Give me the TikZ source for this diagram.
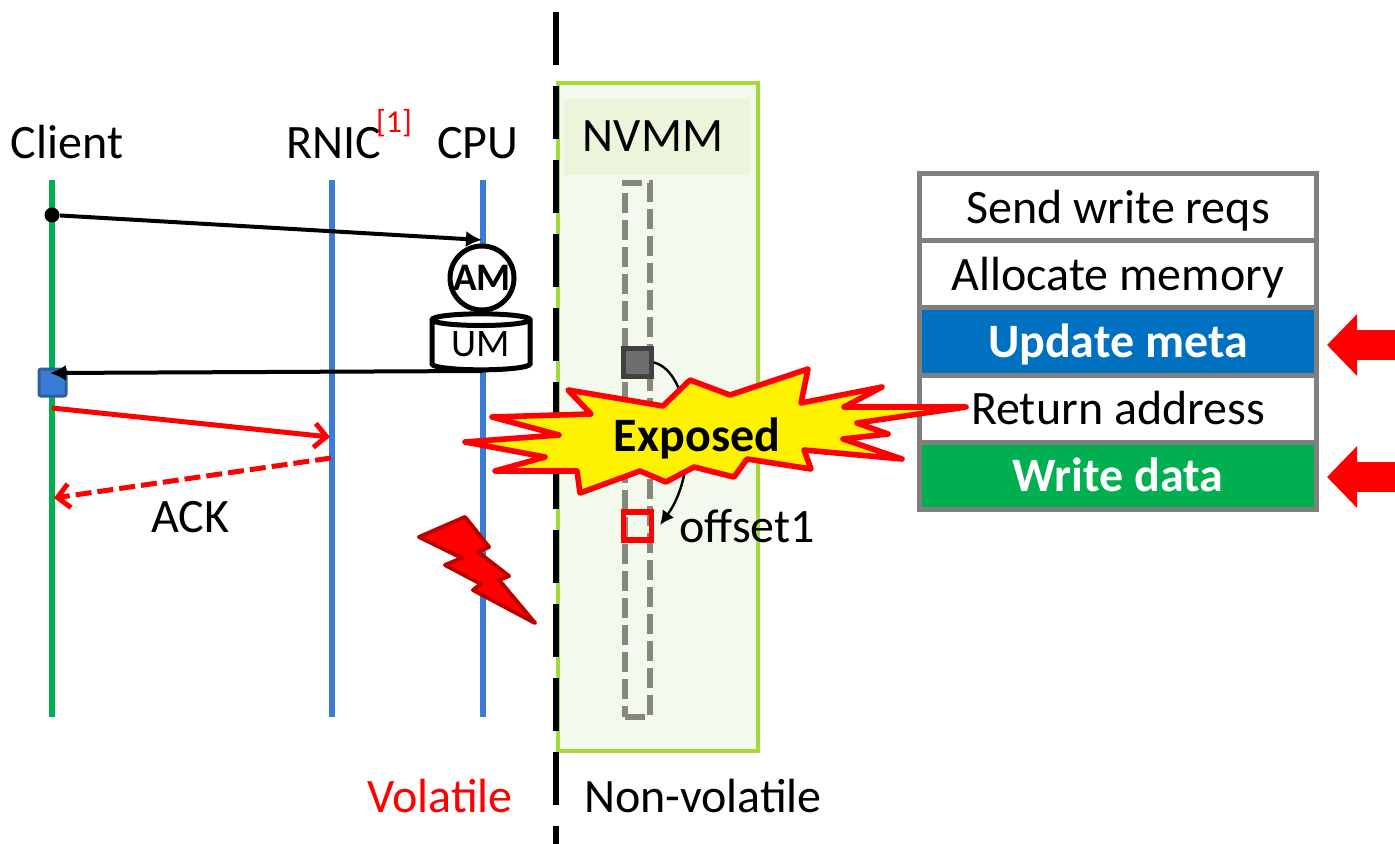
\documentclass[tikz,border=0pt]{standalone}
\usepackage{fontspec}
\setmainfont{Carlito}
\usepackage{tikz}
\usetikzlibrary{arrows.meta,positioning,shapes.geometric}
\tikzset{every node/.append style={align=center}}
\definecolor{softgreen}{HTML}{F3FAED}
\definecolor{headgreen}{HTML}{EBF5DC}
\definecolor{edgegreen}{HTML}{A2D93B}
\definecolor{linegreen}{HTML}{00B050}
\definecolor{lineblue}{HTML}{3A7BD5}
\definecolor{boxblue}{HTML}{2F5D9E}
\definecolor{rowblue}{HTML}{0070C0}
\definecolor{slotgrey}{HTML}{85887A}
\definecolor{starfill}{HTML}{FFF200}
\tikzset{
  lifeline/.style={line width=3.2pt},
  rowbox/.style={draw=gray, line width=2.5pt, fill=white, outer sep=0pt, inner sep=0pt, minimum width=198.5pt, minimum height=33.6pt, text height=16pt, text depth=0pt},
  hitarrow/.style={draw=red, line width=15pt, -{Triangle[length=15pt,width=30pt]}},
  msgarrow/.style={line width=2pt, -{Latex[length=8pt,width=8pt]}},
  lostarrow/.style={draw=red, line width=2.5pt, -{Straight Barb[length=6pt,width=12pt]}}
}
\begin{document}
\begin{tikzpicture}[x=0.5pt,y=-0.5pt,every node/.style={font=\fontsize{24}{28}\selectfont,align=center}, >=Latex]
  \useasboundingbox (0,0) rectangle (1395,844);

  % NVMM region
  \node[draw=edgegreen, line width=2pt, fill=softgreen, minimum width=100pt, minimum height=334pt, inner sep=0pt, outer sep=0pt] (nvmm) at (658,417) {};
  \node[fill=headgreen, minimum width=93pt, minimum height=38pt, inner sep=0pt, text height=15pt, text depth=0pt] (head) at (657,137) {NVMM\hspace{4pt}};
  \node[draw=slotgrey, line width=3pt, dash pattern=on 10pt off 3.5pt, minimum width=12.5pt, minimum height=267pt, inner sep=0pt] (slots) at (637,450) {};

  % lifelines
  \coordinate (clienttop) at (52,180);
  \coordinate (clientend) at (52,717);
  \coordinate (rnictop) at (332,180);
  \coordinate (rnicend) at (332,717);
  \coordinate (cputop) at (483,180);
  \coordinate (cpuend) at (483,717);
  \draw[lifeline, linegreen] (clienttop) -- (clientend);
  \draw[lifeline, lineblue] (rnictop) -- (rnicend);
  \draw[lifeline, lineblue] (cputop) -- (cpuend);

  \node[anchor=base] (client) at (67,159) {Client};
  \node[anchor=base] (rnic) at (334,159) {RNIC};
  \node[text=red, font=\fontsize{16}{18}\selectfont] (ref) at (394,123) {[1]};
  \node[anchor=base] (cpu) at (478,159) {CPU};

  % volatile / non-volatile split
  \coordinate (splittop) at (556,12);
  \coordinate (splitend) at (556,844);
  \draw[line width=3.2pt, dash pattern=on 26.5pt off 10.5pt] (splittop) -- (splitend);
  \node[anchor=base, text=red] (vol) at (440,812) {Volatile};
  \node[anchor=base] (nonvol) at (703,812) {Non-volatile};

  % write request path
  \node[circle, fill=black, inner sep=0pt, minimum size=7.5pt] (dot) at (52,215) {};
  \coordinate (cpuin) at (482,240);
  \coordinate (cpuout) at (482,371);
  \coordinate (clientin) at (50,373);
  \node[draw, circle, line width=2.5pt, fill=white, minimum size=32pt, inner sep=0pt, font=\fontsize{19.5}{22}\selectfont\bfseries] (am) at (482,278) {AM};
  \node[draw, cylinder, shape border rotate=90, aspect=0.2, line width=2.5pt, fill=white, minimum width=49pt, minimum height=28pt, inner sep=0pt, text depth=2.5pt, font=\fontsize{19.5}{22}\selectfont] (um) at (481,346) {UM};
  \node[draw=boxblue, fill=lineblue, line width=1.5pt, rounded corners=1pt, minimum size=13.5pt, inner sep=0pt] (ackbox) at (52.5,382.5) {};
  \draw[msgarrow] (dot) -- (cpuin);
  \draw[msgarrow] (cpuout) -- (clientin);

  % lost flush
  \coordinate (sendstart) at (52,408);
  \coordinate (rnichit) at (330,437);
  \coordinate (rnicack) at (331,458);
  \coordinate (clientack) at (54,498);
  \draw[lostarrow] (sendstart) -- (rnichit);
  \draw[lostarrow, dash pattern=on 8pt off 3pt] (rnicack) -- (clientack);
  \node[anchor=base] (ack) at (190,532) {ACK};

  % slots
  \node[draw=black!75, fill=black!57, line width=2.4pt, minimum size=14pt, inner sep=0pt] (meta) at (637.5,362.5) {};
  \node[draw=red, line width=2.6pt, minimum size=14pt, inner sep=0pt] (data) at (637.5,526) {};
  \node[anchor=base west, inner sep=0pt] (off) at (679,542) {offset1};
  \draw[line width=1.2pt, -{Latex[length=7pt,width=7pt]}] (meta.east) .. controls (692,372) and (700,470) .. (660,525);

  % step table
  \node[rowbox] (send) at (1118,207.1) {Send write reqs};
  \node[rowbox, below=0pt of send] (alloc) {Allocate memory};
  \node[rowbox, fill=rowblue, text=white, font=\fontsize{24}{28}\selectfont\bfseries, below=0pt of alloc] (update) {Update meta};
  \node[rowbox, below=0pt of update] (ret) {Return address};
  \node[rowbox, fill=linegreen, text=white, font=\fontsize{24}{28}\selectfont\bfseries, below=0pt of ret] (wdata) {Write data};

  \coordinate (updtail) at (1395,345);
  \coordinate (updtip) at (1327,345);
  \coordinate (wrtail) at (1395,477);
  \coordinate (wrtip) at (1327,477);
  \draw[hitarrow] (updtail) -- (updtip);
  \draw[hitarrow] (wrtail) -- (wrtip);

  % crash
  \draw[fill=red, draw=red!75!black, line width=2pt, line join=round] (465,517) -- (489,547) -- (478,552) -- (509,576) -- (499,580) -- (535,623) -- (473,590) -- (481,584) -- (445,565) -- (462,558) -- (419,537) -- cycle;

  % exposed window
  \draw[fill=starfill, draw=red, line width=2.8pt, line join=round] (568,390) -- (663,406) -- (690,380) -- (730,395) -- (808,369) -- (801,403) -- (882,387) -- (844,407) -- (966,407) -- (857,423) -- (888,434) -- (843,439) -- (902,459) -- (804,450) -- (811,469) -- (747,459) -- (734,477) -- (694,467) -- (666,482) -- (640,471) -- (580,493) -- (577,471) -- (495,471) -- (545,457) -- (465,442) -- (559,435) -- (492,417) -- (591,414) -- cycle;
  \node[anchor=base, font=\fontsize{24}{28}\selectfont\bfseries] (exposed) at (697,451) {Exposed};
\end{tikzpicture}
\end{document}
